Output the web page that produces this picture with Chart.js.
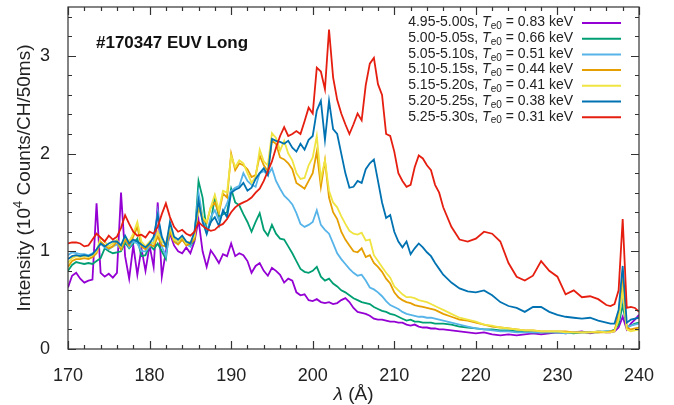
<!DOCTYPE html>
<html><head><meta charset="utf-8">
<script src="https://cdn.jsdelivr.net/npm/chart.js@4.4.1/dist/chart.umd.min.js"></script>
<style>html,body{margin:0;padding:0;background:#fff;}#wrap{width:674px;height:405px;}</style>
</head><body><div id="wrap"><canvas id="c" width="674" height="405"></canvas></div>
<script>
// wavelength (Angstrom)
const wavelength = [
170,170.5,171,171.5,172,172.5,173,173.5,174,174.5,
175,175.5,176,176.5,177,177.5,178,178.5,179,179.5,
180,180.5,181,181.5,182,182.5,183,183.5,184,184.5,
185,185.5,186,186.5,187,187.5,188,188.5,189,189.5,
190,190.5,191,191.5,192,192.5,193,193.5,194,194.5,
195,195.5,196,196.5,197,197.5,198,198.5,199,199.5,
200,200.5,201,201.5,202,202.5,203,203.5,204,204.5,
205,205.5,206,206.5,207,207.5,208,208.5,209,209.5,
210,210.5,211,211.5,212,212.5,213,213.5,214,214.5,
215,215.5,216,217,218,219,220,221,222,223,224,225,226,227,228,229,230,231,232,233,234,235,236,
236.5,237,237.5,238,238.5,239,239.5,240];

const s495 = [
0.63,0.75,0.78,0.72,0.68,0.70,0.71,1.49,0.78,0.74,
0.77,0.73,0.78,1.60,0.95,0.72,1.06,0.76,1.03,0.80,
1.06,0.84,1.50,0.74,1.00,1.18,1.06,1.00,0.98,1.04,
0.98,1.10,1.32,1.00,0.84,1.01,0.95,0.88,0.97,0.95,
1.08,0.95,0.98,0.96,0.90,0.78,0.85,0.88,0.80,0.75,
0.83,0.80,0.76,0.68,0.72,0.70,0.58,0.55,0.56,0.50,
0.49,0.51,0.48,0.47,0.48,0.46,0.47,0.50,0.52,0.48,
0.42,0.38,0.37,0.36,0.34,0.31,0.30,0.30,0.29,0.28,
0.28,0.27,0.27,0.25,0.24,0.25,0.23,0.22,0.22,0.21,
0.21,0.20,0.20,0.19,0.18,0.17,0.16,0.17,0.15,0.14,0.15,0.14,0.15,0.16,0.15,0.16,0.17,0.16,0.17,0.18,0.16,0.18,0.17,
0.17,0.18,0.22,0.33,0.20,0.26,0.30,0.35];

const s500 = [
0.80,0.86,0.89,0.88,0.87,0.88,0.87,0.90,0.93,1.03,
1.00,0.98,0.99,1.00,1.09,1.03,1.08,1.13,0.95,0.96,
1.06,1.02,1.08,1.00,0.92,1.27,1.12,1.10,1.14,1.09,
1.05,1.12,1.72,1.55,1.20,1.30,1.55,1.35,1.38,1.40,
1.64,1.50,1.47,1.38,1.30,1.20,1.30,1.39,1.22,1.16,
1.27,1.18,1.13,1.12,1.05,0.98,0.90,0.82,0.79,0.78,
0.80,0.84,0.74,0.70,0.72,0.67,0.64,0.60,0.58,0.55,
0.52,0.50,0.48,0.47,0.46,0.43,0.41,0.39,0.38,0.36,
0.35,0.33,0.31,0.29,0.30,0.28,0.28,0.27,0.27,0.27,
0.26,0.26,0.26,0.25,0.23,0.22,0.21,0.20,0.20,0.19,0.19,0.18,0.18,0.17,0.17,0.17,0.17,0.17,0.16,0.17,0.17,0.17,0.18,
0.18,0.20,0.25,0.45,0.22,0.24,0.26,0.27];

const s505 = [
0.96,0.99,0.98,0.97,0.97,0.96,0.98,1.00,1.08,1.04,
1.02,1.05,1.07,1.02,1.12,1.04,1.10,1.08,1.00,1.00,
1.05,1.10,1.40,1.05,0.95,1.22,1.10,1.08,1.12,1.07,
1.05,1.18,1.60,1.35,1.18,1.35,1.42,1.32,1.40,1.49,
1.62,1.65,1.67,1.80,1.72,1.68,1.66,1.80,1.82,1.78,
1.85,1.72,1.64,1.57,1.53,1.48,1.39,1.28,1.25,1.27,
1.30,1.42,1.27,1.22,1.18,1.08,0.98,0.92,0.87,0.82,
0.78,0.75,0.76,0.70,0.63,0.61,0.58,0.54,0.49,0.45,
0.43,0.41,0.38,0.36,0.35,0.34,0.33,0.33,0.32,0.32,
0.31,0.30,0.29,0.27,0.25,0.23,0.21,0.20,0.19,0.18,0.18,0.17,0.17,0.17,0.17,0.17,0.17,0.16,0.17,0.17,0.17,0.18,0.18,
0.18,0.19,0.30,0.55,0.22,0.24,0.25,0.26];

const s510 = [
0.84,0.90,0.92,0.92,0.93,0.92,0.94,0.98,1.10,1.06,
1.03,1.05,1.10,1.02,1.12,1.06,1.15,1.25,1.05,1.02,
1.07,1.05,1.15,1.06,1.05,1.20,1.10,1.07,1.12,1.06,
1.08,1.12,1.45,1.33,1.29,1.45,1.50,1.39,1.59,1.55,
2.00,1.83,1.90,1.88,1.84,1.76,1.78,1.98,1.88,1.82,
2.13,2.10,1.96,1.94,1.90,1.84,1.70,1.67,1.64,1.72,
1.80,2.02,1.66,1.93,1.55,1.40,1.33,1.20,1.12,1.06,
1.00,0.99,1.03,0.94,0.96,0.88,0.84,0.79,0.72,0.67,
0.58,0.53,0.50,0.48,0.47,0.45,0.44,0.43,0.42,0.41,
0.40,0.38,0.36,0.33,0.30,0.29,0.27,0.25,0.23,0.22,0.21,0.20,0.19,0.19,0.18,0.18,0.18,0.18,0.17,0.17,0.17,0.17,0.17,
0.18,0.19,0.35,0.68,0.22,0.20,0.21,0.22];

const s515 = [
0.88,0.93,0.95,0.94,0.95,0.94,0.96,1.00,1.14,1.10,
1.05,1.08,1.12,1.05,1.15,1.10,1.18,1.30,1.10,1.05,
1.10,1.08,1.20,1.10,1.08,1.25,1.12,1.10,1.15,1.08,
1.10,1.15,1.50,1.35,1.30,1.45,1.58,1.42,1.62,1.60,
1.98,1.86,1.93,1.90,1.80,1.70,1.76,2.04,1.92,1.88,
2.21,2.16,2.03,2.13,2.00,1.93,1.80,1.74,1.75,1.88,
1.96,2.18,1.74,1.93,1.62,1.50,1.45,1.36,1.28,1.21,
1.18,1.17,1.19,1.11,1.12,0.96,0.90,0.84,0.78,0.73,
0.64,0.60,0.56,0.53,0.53,0.52,0.50,0.49,0.48,0.46,
0.44,0.42,0.40,0.36,0.32,0.30,0.28,0.25,0.24,0.22,0.21,0.20,0.19,0.19,0.18,0.18,0.18,0.17,0.17,0.17,0.17,0.18,0.17,
0.17,0.18,0.30,0.60,0.20,0.18,0.19,0.20];

const s520 = [
0.92,0.95,0.96,0.95,0.96,0.95,0.97,1.02,1.08,1.05,
1.08,1.10,1.10,1.06,1.16,1.08,1.12,1.10,1.07,1.04,
1.08,1.15,1.37,1.15,1.05,1.30,1.15,1.12,1.16,1.10,
1.08,1.20,1.52,1.30,1.18,1.30,1.35,1.26,1.42,1.35,
1.60,1.63,1.65,1.70,1.62,1.65,1.74,1.80,1.85,1.78,
2.15,2.13,2.12,2.10,2.13,2.06,2.02,2.10,2.04,2.14,
2.18,2.44,2.54,2.14,2.54,2.25,2.20,2.00,1.80,1.65,
1.66,1.72,1.70,1.84,1.90,1.94,1.72,1.50,1.34,1.37,
1.20,1.10,1.04,1.10,0.97,1.03,1.08,1.04,0.99,0.95,
0.88,0.82,0.76,0.68,0.62,0.59,0.58,0.60,0.55,0.48,0.44,0.42,0.38,0.43,0.43,0.38,0.35,0.33,0.32,0.31,0.32,0.29,0.27,
0.26,0.26,0.40,0.85,0.27,0.30,0.31,0.32];

const s525 = [
1.08,1.09,1.09,1.08,1.05,1.06,1.12,1.18,1.14,1.10,
1.16,1.12,1.15,1.24,1.37,1.28,1.20,1.16,1.17,1.14,
1.20,1.18,1.25,1.38,1.49,1.35,1.25,1.20,1.22,1.18,
1.16,1.20,1.30,1.26,1.23,1.21,1.22,1.26,1.28,1.33,
1.40,1.45,1.48,1.50,1.52,1.55,1.60,1.64,1.72,1.82,
1.92,2.06,2.18,2.27,2.18,2.20,2.23,2.20,2.33,2.47,
2.41,2.88,2.84,2.66,3.27,2.78,2.55,2.41,2.30,2.20,
2.30,2.41,2.34,2.70,2.92,2.98,2.71,2.60,2.20,2.18,
2.02,1.80,1.72,1.66,1.68,1.86,1.98,1.95,1.88,1.83,
1.68,1.60,1.45,1.25,1.12,1.10,1.13,1.20,1.18,1.10,0.88,0.74,0.70,0.75,0.90,0.80,0.74,0.56,0.60,0.53,0.54,0.51,0.45,
0.44,0.46,0.60,1.33,0.42,0.43,0.42,0.38];

const timeWindows = ["4.95-5.00s","5.00-5.05s","5.05-5.10s","5.10-5.15s","5.15-5.20s","5.20-5.25s","5.25-5.30s"];
const teValues = ["0.83","0.66","0.51","0.44","0.41","0.38","0.31"];
const seriesColors = ["#9400d3","#009e73","#56b4e9","#e69f00","#f0e442","#0072b2","#e51e10"];
const allSeries = [s495,s500,s505,s510,s515,s520,s525];
const xTickLabels = [170,180,190,200,210,220,230,240];
const yTickLabels = [0,1,2,3];

const FONT = "'Liberation Sans', Arial, sans-serif";

const datasets = allSeries.map((s,i)=>({
  label: timeWindows[i] + ", Te0 = " + teValues[i] + " keV",
  data: s.map((v,k)=>({x: wavelength[k], y: v})),
  borderColor: seriesColors[i],
  backgroundColor: seriesColors[i],
  borderWidth: 1.8,
  pointRadius: 0,
  tension: 0,
  fill: false,
  order: allSeries.length - i
}));

const framePlugin = {
  id: 'frame',
  afterDatasetsDraw(chart){
    const {ctx, chartArea:a, scales:{x, y}} = chart;
    ctx.save();
    ctx.strokeStyle = '#333';
    ctx.lineWidth = 1.2;
    ctx.strokeRect(a.left, a.top, a.right - a.left, a.bottom - a.top);
    ctx.beginPath();
    for (let v = x.min; v <= x.max + 1e-9; v += 2) {
      const px = Math.round(x.getPixelForValue(v)) + 0.5;
      const L = (Math.round(v) % 10 === 0) ? 8 : 4;
      ctx.moveTo(px, a.bottom); ctx.lineTo(px, a.bottom - L);
      ctx.moveTo(px, a.top); ctx.lineTo(px, a.top + L);
    }
    for (let k = 0; k <= 17; k++) {
      const v = k * 0.2;
      if (v > y.max) break;
      const py = Math.round(y.getPixelForValue(v)) + 0.5;
      const L = (k % 5 === 0) ? 8 : 4;
      ctx.moveTo(a.left, py); ctx.lineTo(a.left + L, py);
      ctx.moveTo(a.right, py); ctx.lineTo(a.right - L, py);
    }
    ctx.stroke();

    // title
    ctx.fillStyle = '#111';
    ctx.font = 'bold 17px ' + FONT;
    ctx.textBaseline = 'middle';
    ctx.textAlign = 'left';
    ctx.fillText('#170347 EUV Long', 96, 43);

    // legend
    const right = 573;
    for (let i = 0; i < timeWindows.length; i++) {
      const cy = 22.5 + i * 15.7;
      const parts = [
        {t: timeWindows[i] + ', ', f: '14px ' + FONT, dy: 0},
        {t: 'T', f: 'italic 14px ' + FONT, dy: 0},
        {t: 'e0', f: '10px ' + FONT, dy: 4},
        {t: ' = ' + teValues[i] + ' keV', f: '14px ' + FONT, dy: 0}
      ];
      let w = 0;
      parts.forEach(p => { ctx.font = p.f; p.w = ctx.measureText(p.t).width; w += p.w; });
      let xx = right - w;
      ctx.fillStyle = '#222';
      parts.forEach(p => { ctx.font = p.f; ctx.fillText(p.t, xx, cy + p.dy); xx += p.w; });
      ctx.strokeStyle = seriesColors[i];
      ctx.lineWidth = 2;
      ctx.beginPath();
      ctx.moveTo(582, cy + 0.5); ctx.lineTo(621, cy + 0.5);
      ctx.stroke();
    }

    // x title
    ctx.fillStyle = '#222';
    const xp = [{t:'λ', f:'italic 19px ' + FONT},{t:' (Å)', f:'19px ' + FONT}];
    let tw = 0;
    xp.forEach(p => { ctx.font = p.f; p.w = ctx.measureText(p.t).width; tw += p.w; });
    let sx = (a.left + a.right) / 2 - tw / 2;
    xp.forEach(p => { ctx.font = p.f; ctx.fillText(p.t, sx, 395); sx += p.w; });

    // y title
    ctx.save();
    ctx.translate(25, (a.top + a.bottom) / 2);
    ctx.rotate(-Math.PI / 2);
    const yp = [
      {t:'Intensity (10', f:'19px ' + FONT, dy:0},
      {t:'4', f:'13px ' + FONT, dy:-7},
      {t:' Counts/CH/50ms)', f:'19px ' + FONT, dy:0}
    ];
    tw = 0;
    yp.forEach(p => { ctx.font = p.f; p.w = ctx.measureText(p.t).width; tw += p.w; });
    sx = -tw / 2;
    yp.forEach(p => { ctx.font = p.f; ctx.fillText(p.t, sx, p.dy); sx += p.w; });
    ctx.restore();
    ctx.restore();
  }
};

new Chart(document.getElementById('c'), {
  type: 'line',
  data: { datasets },
  options: {
    responsive: false,
    animation: false,
    devicePixelRatio: 1,
    layout: { padding: { top: 7, right: 35, left: 0, bottom: 0 } },
    plugins: { legend: { display: false }, tooltip: { enabled: false } },
    scales: {
      x: {
        type: 'linear', min: 170, max: 240,
        grid: { display: false },
        border: { display: false },
        ticks: {
          stepSize: 10, padding: 8, color: '#222',
          font: { family: FONT, size: 18 },
          callback: v => xTickLabels.includes(v) ? String(v) : ''
        },
        afterFit(s){ s.height = 56; s.paddingLeft = 0; s.paddingRight = 0; }
      },
      y: {
        min: 0, max: 3.5,
        grid: { display: false },
        border: { display: false },
        ticks: {
          stepSize: 1, includeBounds: false, padding: 10, color: '#222',
          font: { family: FONT, size: 18 },
          callback: v => yTickLabels.includes(v) ? String(v) : ''
        },
        afterFit(s){ s.width = 68; s.paddingTop = 0; s.paddingBottom = 0; }
      }
    }
  },
  plugins: [framePlugin]
});
</script>
</body></html>
